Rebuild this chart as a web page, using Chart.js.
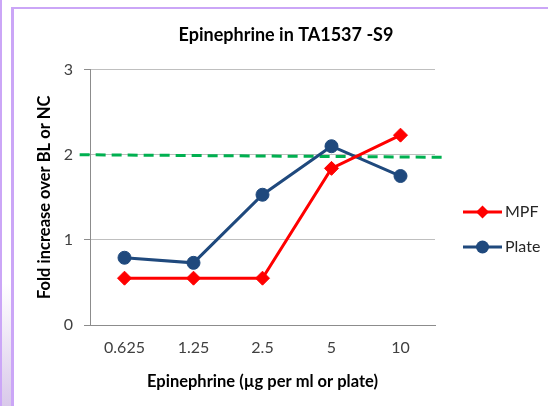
<!DOCTYPE html>
<html>
<head>
<meta charset="utf-8">
<script src="https://cdn.jsdelivr.net/npm/chart.js@4.4.1/dist/chart.umd.min.js"></script>
<style>
html, body { margin: 0; padding: 0; background: #fff; overflow: hidden; }
#wrap { position: relative; width: 548px; height: 406px; }
#myChart { position: absolute; left: 0; top: 0; }
.frame { position: absolute; background: #cba6f7; }
</style>
</head>
<body>
<div id="wrap">
  <canvas id="myChart" width="548" height="406"></canvas>
  <div class="frame" style="left:0;top:0;width:2px;height:406px"></div>
  <div style="position:absolute;left:2px;top:283px;width:9px;height:123px;background:linear-gradient(#fff,#d9c9ea)"></div>
  <div class="frame" style="left:11px;top:7px;width:3px;height:399px"></div>
  <div class="frame" style="left:11px;top:7px;width:537px;height:2px"></div>
</div>
<script>
// Asse X - dosi
var Doses = ['0.625', '1.25', '2.5', '5', '10'];
var SeriesLabels = ['MPF', 'Plate'];
var CountMPF = [0.55, 0.55, 0.55, 1.84, 2.23];
var CountPlate = [0.79, 0.73, 1.53, 2.10, 1.75];
// linea soglia (indice categoria, valore)
var LimitX = [-0.65, 4.66];
var LimitY = [2.0, 1.97];
var YTicks = [0, 1, 2, 3];

var FONT = 'Lato, "Open Sans", sans-serif';

// legenda disegnata a mano: linea + marker
var legendLines = {
    id: 'legendLines',
    afterDraw: function(chart) {
        var c = chart.ctx;
        chart.data.datasets.forEach(function(ds, i) {
            if (!ds.label) return;
            var y = 212 + i * 35;
            var mx = 482.5;
            c.save();
            c.strokeStyle = ds.borderColor;
            c.lineWidth = 3;
            c.beginPath();
            c.moveTo(463, y);
            c.lineTo(502, y);
            c.stroke();
            c.fillStyle = ds.pointBackgroundColor;
            c.beginPath();
            if (ds.pointStyle === 'rectRot') {
                c.moveTo(mx, y - 6.5);
                c.lineTo(mx + 6.5, y);
                c.lineTo(mx, y + 6.5);
                c.lineTo(mx - 6.5, y);
                c.closePath();
            } else {
                c.arc(mx, y, 6.5, 0, Math.PI * 2);
            }
            c.fill();
            c.fillStyle = '#262626';
            c.font = '16px ' + FONT;
            c.textBaseline = 'middle';
            c.fillText(ds.label, 505, y);
            c.restore();
        });
    }
};

var ctx = document.getElementById('myChart').getContext('2d');
var myChart = new Chart(ctx, {
    type: 'line',
    data: {
        labels: Doses,
        datasets: [
        // MPF
        {
            label: SeriesLabels[0],
            data: CountMPF,
            borderColor: '#ff0000',
            backgroundColor: '#ff0000',
            pointBackgroundColor: '#ff0000',
            pointBorderColor: '#ff0000',
            pointStyle: 'rectRot',
            pointRadius: 7,
            pointBorderWidth: 1,
            borderWidth: 3,
            tension: 0
        },
        // Plate
        {
            label: SeriesLabels[1],
            data: CountPlate,
            borderColor: '#1f497d',
            backgroundColor: '#1f497d',
            pointBackgroundColor: '#1f497d',
            pointBorderColor: '#1f497d',
            pointStyle: 'circle',
            pointRadius: 6.5,
            pointBorderWidth: 1,
            borderWidth: 3,
            tension: 0
        },
        // soglia 2x
        {
            label: '',
            data: LimitX.map(function(x, i) { return { x: x, y: LimitY[i] }; }),
            xAxisID: 'xt',
            borderColor: '#00b050',
            borderWidth: 3,
            borderDash: [10, 6],
            pointRadius: 0,
            clip: false,
            fill: false
        }
    ]
    },
    options: {
        responsive: false,
        animation: false,
        layout: { padding: { left: 24, right: 0, top: 0, bottom: 0 } },
        plugins: {
            legend: { display: false },
            tooltip: { enabled: false },
            title: {
                display: true,
                text: 'Epinephrine in TA1537 -S9',
                color: '#000',
                font: { family: FONT, size: 18, weight: 'bold' },
                padding: { top: 24, bottom: 24 }
            }
        },
        scales: {
            x: {
                offset: true,
                grid: { display: false, drawTicks: false },
                border: { display: true, color: '#8c8c8c', width: 1 },
                ticks: { color: '#404040', padding: 13, font: { family: FONT, size: 16 } },
                title: {
                    display: true,
                    text: 'Epinephrine (µg per ml or plate)',
                    color: '#000',
                    font: { family: FONT, size: 16.5, weight: 'bold' },
                    padding: { top: 0, bottom: 14 }
                },
                afterFit: function(s) { s.height = 81; }
            },
            xt: {
                type: 'linear',
                position: 'top',
                display: false,
                min: -0.5,
                max: 4.5
            },
            y: {
                min: YTicks[0],
                max: YTicks[YTicks.length - 1],
                ticks: { stepSize: 1, color: '#404040', padding: 11, font: { family: FONT, size: 16 } },
                grid: { color: '#bfbfbf', tickColor: '#8c8c8c', tickLength: 6 },
                border: { display: true, color: '#8c8c8c', width: 1 },
                title: {
                    display: true,
                    text: 'Fold increase over BL or NC',
                    color: '#000',
                    font: { family: FONT, size: 16.5, weight: 'bold' },
                    padding: { top: 11, bottom: 0 }
                },
                afterFit: function(s) { s.width = 66; }
            },
            yr: {
                type: 'linear',
                position: 'right',
                display: true,
                grid: { display: false },
                border: { display: false },
                ticks: { display: false },
                afterFit: function(s) { s.width = 113; }
            }
        }
    },
    plugins: [legendLines]
});
</script>
</body>
</html>
